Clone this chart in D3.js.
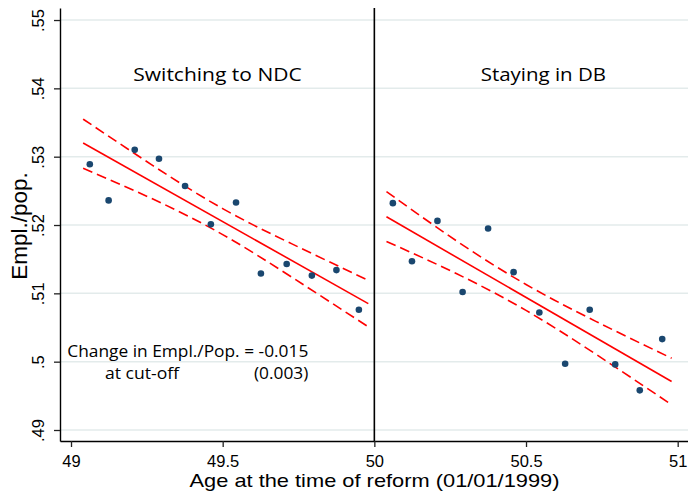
<!DOCTYPE html>
<html>
<head>
<meta charset="utf-8">
<script src="https://cdn.jsdelivr.net/npm/d3@7"></script>
<style>
    body { margin: 0; background: #fff; }
    svg { display: block; }
</style>
</head>
<body>
<div id="chart"></div>
<script>
// binned means: age at reform (monthly bins) and employment / population
var ageNdc = [49.062, 49.124, 49.21, 49.29, 49.376, 49.461, 49.544, 49.626, 49.711, 49.794, 49.875, 49.949];
var empNdc = [0.5289, 0.5236, 0.5310, 0.5297, 0.5257, 0.5201, 0.5233, 0.5129, 0.5143, 0.5126, 0.5134, 0.5076];
var ageDb = [50.061, 50.124, 50.208, 50.291, 50.375, 50.459, 50.544, 50.629, 50.71, 50.794, 50.875, 50.949];
var empDb = [0.5232, 0.5147, 0.5206, 0.5102, 0.5195, 0.5131, 0.5072, 0.4997, 0.5076, 0.4996, 0.4958, 0.5033];

// linear fit on each side of the cut-off, with 95% band
var fitAgeNdc = [49.04, 49.98];
var fitNdc = [0.5320, 0.5085];
var ciAgeNdc = [49.04, 49.27, 49.5, 49.73, 49.98];
var ciHiNdc = [0.5355, 0.5287, 0.5224, 0.5172, 0.5119];
var ciLoNdc = [0.5283, 0.5238, 0.5186, 0.5123, 0.5051];

var fitAgeDb = [50.04, 50.98];
var fitDb = [0.5212, 0.4971];
var ciAgeDb = [50.04, 50.27, 50.5, 50.73, 50.98];
var ciHiDb = [0.5249, 0.5177, 0.5113, 0.5059, 0.5005];
var ciLoDb = [0.5176, 0.5129, 0.5075, 0.5011, 0.4937];

var xTicks = [49, 49.5, 50, 50.5, 51];
var xTickLabels = ["49", "49.5", "50", "50.5", "51"];
var yTicks = [0.49, 0.5, 0.51, 0.52, 0.53, 0.54, 0.55];
var yTickLabels = [".49", ".5", ".51", ".52", ".53", ".54", ".55"];
var cutoff = 50;

var width = 688,
    height = 494;
var plot = { left: 60, right: 688, top: 8, bottom: 441 };

var svg = d3.select("#chart")
    .append("svg")
    .attr("width", width)
    .attr("height", height);

var x = d3.scaleLinear()
    .domain([48.9637, 51.034])
    .range([plot.left, plot.right]);

var y = d3.scaleLinear()
    .domain([0.48839, 0.55176])
    .range([plot.bottom, plot.top]);

var tickFont = "'Liberation Sans', Arial, sans-serif";
var textFont = "'Open Sans', 'Noto Sans', sans-serif";

// gridlines
svg.append("g")
    .selectAll("line")
    .data(yTicks)
    .enter()
    .append("line")
    .attr("x1", plot.left)
    .attr("x2", plot.right)
    .attr("y1", function (d) { return y(d); })
    .attr("y2", function (d) { return y(d); })
    .attr("stroke", "#e3ebeb")
    .attr("stroke-width", 1.5);

function zip(a, b) {
    return a.map(function (v, i) { return [v, b[i]]; });
}

var straight = d3.line()
    .x(function (d) { return x(d[0]); })
    .y(function (d) { return y(d[1]); });

var band = d3.line()
    .x(function (d) { return x(d[0]); })
    .y(function (d) { return y(d[1]); })
    .curve(d3.curveNatural);

function drawSide(ages, emp, fitAge, fit, ciAge, ciHi, ciLo) {
    var g = svg.append("g");

    [ciHi, ciLo].forEach(function (ci) {
        g.append("path")
            .attr("d", band(zip(ciAge, ci)))
            .attr("fill", "none")
            .attr("stroke", "#ff0000")
            .attr("stroke-width", 1.6)
            .attr("stroke-dasharray", "10,5");
    });

    g.append("path")
        .attr("d", straight(zip(fitAge, fit)))
        .attr("fill", "none")
        .attr("stroke", "#ff0000")
        .attr("stroke-width", 1.6);

    g.selectAll("circle")
        .data(zip(ages, emp))
        .enter()
        .append("circle")
        .attr("cx", function (d) { return x(d[0]); })
        .attr("cy", function (d) { return y(d[1]); })
        .attr("r", 3.3)
        .attr("fill", "#1a476f");
}

drawSide(ageNdc, empNdc, fitAgeNdc, fitNdc, ciAgeNdc, ciHiNdc, ciLoNdc);
drawSide(ageDb, empDb, fitAgeDb, fitDb, ciAgeDb, ciHiDb, ciLoDb);

// cut-off line
svg.append("line")
    .attr("x1", x(cutoff))
    .attr("x2", x(cutoff))
    .attr("y1", plot.top)
    .attr("y2", plot.bottom)
    .attr("stroke", "#000")
    .attr("stroke-width", 1.6);

// axes
var yAxis = svg.append("g")
    .attr("transform", "translate(" + plot.left + ",0)")
    .call(d3.axisLeft(y)
        .tickValues(yTicks)
        .tickSize(6)
        .tickSizeOuter(0)
        .tickFormat(function (d, i) { return yTickLabels[i]; }));

yAxis.selectAll("text")
    .attr("transform", "rotate(-90)")
    .attr("x", 0)
    .attr("y", -16.5)
    .attr("dy", 0)
    .attr("text-anchor", "middle");

var xAxis = svg.append("g")
    .attr("transform", "translate(0," + plot.bottom + ")")
    .call(d3.axisBottom(x)
        .tickValues(xTicks)
        .tickSize(6)
        .tickSizeOuter(0)
        .tickFormat(function (d, i) { return xTickLabels[i]; }));

xAxis.selectAll("text")
    .attr("y", 14);

[yAxis, xAxis].forEach(function (ax) {
    ax.selectAll("text")
        .attr("fill", "#000")
        .attr("font-family", tickFont)
        .attr("font-size", "16.5px");
    ax.selectAll(".tick line")
        .attr("stroke", "#222")
        .attr("stroke-width", 1.3);
    ax.select(".domain")
        .attr("stroke", "#000")
        .attr("stroke-width", 1.4);
});

// axis titles
svg.append("text")
    .attr("x", 189.5)
    .attr("y", 487)
    .attr("font-family", tickFont)
    .attr("font-size", "19px")
    .attr("textLength", 370)
    .attr("lengthAdjust", "spacingAndGlyphs")
    .text("Age at the time of reform (01/01/1999)");

svg.append("text")
    .attr("transform", "translate(27,226) rotate(-90)")
    .attr("text-anchor", "middle")
    .attr("font-family", tickFont)
    .attr("font-size", "22.5px")
    .text("Empl./pop.");

// panel titles
svg.append("text")
    .attr("x", 133.3)
    .attr("y", 81)
    .attr("font-family", textFont)
    .attr("font-size", "17.8px")
    .attr("textLength", 168.4)
    .attr("lengthAdjust", "spacingAndGlyphs")
    .text("Switching to NDC");

svg.append("text")
    .attr("x", 480.7)
    .attr("y", 81)
    .attr("font-family", textFont)
    .attr("font-size", "17.8px")
    .attr("textLength", 125.3)
    .attr("lengthAdjust", "spacingAndGlyphs")
    .text("Staying in DB");

// estimate box
svg.append("text")
    .attr("x", 67.3)
    .attr("y", 356.5)
    .attr("font-family", textFont)
    .attr("font-size", "16.5px")
    .attr("textLength", 241)
    .attr("lengthAdjust", "spacingAndGlyphs")
    .text("Change in Empl./Pop. = -0.015");

svg.append("text")
    .attr("x", 105)
    .attr("y", 379)
    .attr("font-family", textFont)
    .attr("font-size", "16.5px")
    .attr("textLength", 74)
    .attr("lengthAdjust", "spacingAndGlyphs")
    .text("at cut-off");

svg.append("text")
    .attr("x", 254)
    .attr("y", 379)
    .attr("font-family", textFont)
    .attr("font-size", "16.5px")
    .attr("textLength", 54.3)
    .attr("lengthAdjust", "spacingAndGlyphs")
    .text("(0.003)");
</script>
</body>
</html>
